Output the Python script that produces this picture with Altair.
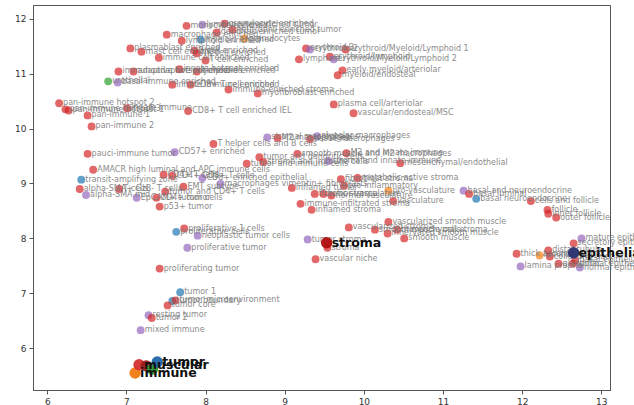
import altair as alt
import pandas as pd

# small labelled points
xs = [7.76, 7.96, 8.24, 8.34, 7.51, 8.14, 7.94, 8.49, 7.70, 7.05, 7.19, 7.86, 7.89, 7.41, 8.00,
      6.90, 7.09, 7.67, 7.89, 6.77, 6.89, 7.58, 7.81, 8.29, 8.66,
      9.27, 9.32, 9.77, 9.18, 9.57, 9.62, 9.73, 9.67, 9.62, 9.87,
      6.15, 6.23, 6.27, 7.01, 6.51, 6.56, 7.78, 8.10, 7.61, 6.51, 6.58, 6.43, 6.41, 6.49, 6.91,
      7.13, 7.38, 7.49, 7.42, 7.47, 7.58, 7.72, 7.96, 8.19, 7.63, 7.73, 7.90, 7.77, 7.42,
      7.68, 7.58, 7.62, 7.52, 7.28, 7.32, 7.18,
      9.29, 9.54, 9.39, 9.81, 10.14, 10.30, 10.42, 10.51, 10.31,
      8.78, 8.91, 9.32, 9.41, 8.68, 9.16, 9.78, 8.52, 8.73, 9.55, 10.46, 9.71, 9.92, 9.09, 9.75,
      9.38, 9.49, 9.59, 10.31, 10.37, 9.20, 9.34,
      11.26, 11.33, 11.42, 12.11, 12.32, 12.33, 12.43, 12.75, 11.93, 12.22, 12.33, 12.35,
      12.65, 12.67, 11.98, 12.46, 12.64, 12.73]
ys = [11.87, 11.89, 11.91, 11.80, 11.71, 11.75, 11.62, 11.64, 11.60, 11.46, 11.40, 11.42, 11.37, 11.29, 11.24,
      11.04, 11.04, 11.08, 11.04, 10.86, 10.84, 10.80, 10.80, 10.71, 10.64,
      11.46, 11.44, 11.44, 11.26, 11.31, 11.26, 11.06, 10.97, 10.44, 10.28,
      10.46, 10.35, 10.33, 10.37, 10.24, 10.04, 10.32, 9.72, 9.57, 9.54, 9.25, 9.07, 8.90, 8.79, 8.90,
      8.74, 8.74, 8.85, 8.58, 9.16, 9.14, 8.94, 9.10, 8.99, 8.12, 8.18, 8.05, 7.83, 7.45,
      7.02, 6.86, 6.87, 6.78, 6.60, 6.55, 6.33,
      7.98, 7.83, 7.62, 8.20, 8.16, 8.09, 8.16, 8.00, 8.30,
      9.84, 9.83, 9.81, 9.86, 9.48, 9.54, 9.55, 9.36, 9.39, 9.41, 9.37, 9.08, 9.10, 8.92, 8.96,
      8.81, 8.81, 8.78, 8.87, 8.68, 8.63, 8.52,
      8.87, 8.81, 8.72, 8.68, 8.52, 8.45, 8.38, 8.00, 7.72, 7.69, 7.78, 7.67,
      7.91, 7.60, 7.49, 7.54, 7.54, 7.47]
groups = ["r", "p", "r", "r", "r", "r", "b", "o", "r", "r", "r", "r", "r", "r", "r",
          "r", "r", "r", "r", "g", "p", "r", "r", "r", "r",
          "r", "p", "r", "r", "r", "p", "r", "r", "r", "r",
          "r", "r", "r", "r", "r", "r", "r", "r", "p", "r", "r", "b", "r", "p", "r",
          "p", "r", "r", "r", "r", "r", "r", "p", "p", "b", "r", "p", "p", "r",
          "b", "b", "r", "r", "p", "r", "p",
          "p", "r", "r", "r", "r", "r", "r", "r", "r",
          "p", "r", "r", "p", "r", "r", "r", "r", "r", "p", "r", "r", "r", "r", "r",
          "r", "r", "r", "o", "r", "r", "r",
          "p", "r", "b", "r", "r", "r", "r", "p", "r", "o", "r", "r",
          "r", "r", "p", "r", "r", "p"]
labels = ["monocyte enriched", "lymphocyte enriched tumor", "granulocyte enriched", "neutrophil enriched tumor",
          "macrophage enriched", "dendritic enriched tumor", "myeloid enriched", "granulocytes",
          "lymphoid enriched", "plasmablast enriched", "mast cell enriched", "B cell enriched",
          "NK cell enriched", "immune cell enriched", "T cell enriched",
          "immunoadaptive enriched", "adaptive hotspot enriched", "innate hotspot enriched",
          "lymphoid enriched", "urothelial", "basal immune enriched", "innate immune enriched",
          "CD8+ T cell enriched", "immune-enriched stroma", "myofibroblast enriched",
          "erythroid 3", "erythroid 2", "erythroid/Myeloid/Lymphoid 1", "lymphoid", "erythroid/lymphoid",
          "erythroid/Myeloid/Lymphoid 2", "early myeloid/arteriolar", "myeloid/endosteal",
          "plasma cell/arteriolar", "vascular/endosteal/MSC",
          "pan-immune hotspot 2", "pan-immune hotspot 3", "pan-immune hotspot 1", "innate immune",
          "pan-immune 1", "pan-immune 2", "CD8+ T cell enriched IEL", "T helper cells and B cells",
          "CD57+ enriched", "pauci-immune tumor", "AMACR high luminal and APC immune cells",
          "transit-amplifying zone", "alpha-SMA+ GzB- T cells", "alpha-SMA mid", "T cells",
          "EpCAM+ tumor cells", "CD4+ tumor", "tumor and CD4+ T cells", "p53+ tumor", "CD4+ T cells",
          "CD4+ CD8+ T cells", "EMT subtype", "CD8+ enriched epithelial",
          "macrophages vimentin+ fibroblasts", "proliferative cells", "proliferative 1 cells",
          "neoplastic tumor cells", "proliferative tumor", "proliferating tumor",
          "tumor 1", "tumor boundary", "tumor microenvironment", "tumor core", "resting tumor",
          "tumor 2", "mixed immune",
          "tumor stroma", "stroma", "vascular niche", "vascularized stroma", "smooth muscle cells",
          "innervated smooth muscle", "mesenchymal stroma", "smooth muscle", "vascularized smooth muscle",
          "stromal macrophages", "M2 macrophages", "tissue macrophages", "alveolar macrophages",
          "tumor and dendritic cells", "smooth muscle and M2 macrophages", "M2 and innate immune",
          "tumor and immune cells", "stroma and immune cells", "stroma and innate immune",
          "mesenchymal/endothelial", "fibroblast stroma", "metabolic active stroma", "inflamed tumor",
          "pro-inflammatory", "fibrotic stroma", "tumor vasculature", "normal vasculature",
          "pro-vasculature", "vasculature", "immune-infiltrated stroma", "inflamed stroma",
          "basal and neuroendocrine", "basal luminal", "basal neuroendocrine", "cells and follicle",
          "follicle", "inner follicle", "outer follicle", "mature epithelial", "thick ascending limb",
          "luminal", "distal tubule", "collecting duct",
          "secretory epithelial", "basal epithelial", "lamina propria", "glandular",
          "luminal epithelial", "normal epithelial"]

# large highlighted points
big_x = [7.11, 7.16, 7.25, 7.33, 7.39, 9.53, 12.65]
big_y = [5.55, 5.70, 5.68, 5.62, 5.75, 7.92, 7.74]
big_color = ["#f07a10", "#d43030", "#9a1c1c", "#2e9a2e", "#1f66aa", "#b00c0c", "#28306e"]
big_label = ["immune", "muscular", "", "", "tumor", "stroma", "epithelial"]

gmap = {"r": "#d62728", "p": "#9467bd", "b": "#1f77b4", "o": "#ff7f0e", "g": "#2ca02c"}

df = pd.DataFrame({"x": xs, "y": ys, "g": groups, "label": labels})
df["c"] = df["g"].map(gmap)
bdf = pd.DataFrame({"x": big_x, "y": big_y, "c": big_color, "label": big_label})

xsc = alt.Scale(domain=[5.82, 13.11], nice=False, zero=False)
ysc = alt.Scale(domain=[5.24, 12.25], nice=False, zero=False)
xax = alt.Axis(values=[6, 7, 8, 9, 10, 11, 12, 13], title=None, grid=False, format="d")
yax = alt.Axis(values=[6, 7, 8, 9, 10, 11, 12], title=None, grid=False, format="d")

base = alt.Chart(df).encode(x=alt.X("x:Q", scale=xsc, axis=xax), y=alt.Y("y:Q", scale=ysc, axis=yax))
pts = base.mark_circle(size=62, opacity=0.7).encode(color=alt.Color("c:N", scale=None))
txt = base.mark_text(align="left", dx=4, fontSize=8, color="#777777", opacity=0.85,
                     font="DejaVu Sans").encode(text="label:N")

bbase = alt.Chart(bdf).encode(x=alt.X("x:Q", scale=xsc), y=alt.Y("y:Q", scale=ysc))
bpts = bbase.mark_circle(size=130, opacity=0.95).encode(color=alt.Color("c:N", scale=None))
btxt = bbase.mark_text(align="left", dx=5, fontSize=12.5, fontWeight="bold", color="#111111",
                       font="DejaVu Sans").encode(text="label:N")

chart = alt.layer(pts, txt, bpts, btxt).properties(
    width=577, height=385,
    autosize=alt.AutoSizeParams(type="none"),
    padding={"left": 33, "top": 5, "right": 24, "bottom": 15},
).configure_view(stroke="#555555", strokeWidth=1).configure_axis(
    domainColor="#555555", tickColor="#555555", labelColor="#333333", labelFontSize=9,
    tickSize=4, labelFont="DejaVu Sans", labelPadding=3
)

chart.save("out.html", embed_options={"renderer": "svg", "actions": False})
